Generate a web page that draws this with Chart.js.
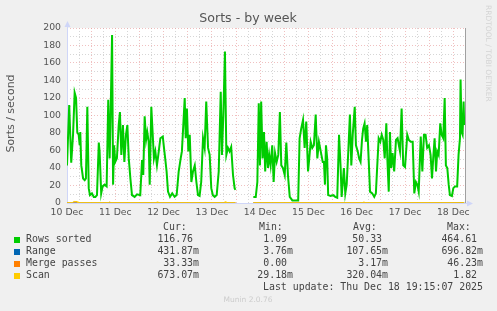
<!DOCTYPE html>
<html>
<head>
<meta charset="utf-8">
<script src="https://cdn.jsdelivr.net/npm/chart.js@4.4.1/dist/chart.umd.min.js"></script>
<style>
html, body { margin: 0; padding: 0; background: #f0f0f0; overflow: hidden; }
</style>
</head>
<body>
<canvas id="chart" width="497" height="311" style="width:497px;height:311px"></canvas>
<script>
// hours since 10 Dec 00:00
const sortHours = [
    0, 1.1, 2.1, 3.0, 3.8, 4.5, 5.1, 5.8, 6.3, 6.6,
    7.1, 8.0, 8.8, 9.4, 10.1, 10.8, 11.4, 12.4, 13.3, 14.1,
    14.9, 15.8, 16.2, 17.0, 17.7, 18.7, 19.7, 20.5, 21.2, 21.7,
    22.4, 22.9, 23.4, 24.0, 24.8, 25.7, 26.3, 27.0, 27.8, 28.5,
    29.3, 30.0, 30.7, 31.5, 32.3, 33.6, 34.8, 36.4, 37.3, 37.9,
    38.6, 39.3, 39.9, 40.6, 41.1, 41.9, 43.2, 43.9, 44.7, 45.6,
    46.4, 47.6, 48.2, 48.8, 49.5, 50.2, 51.2, 52.3, 53.5, 54.5,
    55.5, 56.5, 57.1, 57.8, 58.5, 59.0, 59.6, 60.3, 61.0, 61.8,
    62.6, 63.5, 64.3, 65.1, 65.9, 66.7, 67.6, 68.4, 69.2, 70.1,
    70.9, 71.7, 72.5, 73.4, 74.4, 75.4, 76.4, 77.0, 77.7, 78.5,
    79.2, 80.0, 80.8, 81.6, 82.5, 83.3, 83.7, 88.0, 92.6, 93.8,
    94.6, 95.3, 95.9, 96.5, 97.2, 97.9, 98.5, 99.2, 99.9, 100.5,
    101.2, 102.0, 102.7, 103.4, 104.2, 105.0, 105.8, 106.5, 107.3, 108.2,
    109.0, 109.8, 110.7, 112.0, 113.6, 114.9, 115.6, 116.4, 117.3, 118.1,
    118.9, 119.8, 120.4, 121.1, 121.9, 122.7, 123.6, 124.4, 125.2, 126.1,
    127.1, 127.7, 128.2, 128.7, 129.3, 129.8, 131.0, 132.3, 133.3, 134.3,
    135.2, 136.0, 136.5, 137.6, 138.3, 139.0, 139.8, 140.6, 141.3, 142.0,
    143.0, 143.6, 144.5, 145.2, 145.9, 146.6, 147.2, 147.9, 148.6, 149.2,
    149.9, 150.6, 151.7, 152.7, 153.5, 154.2, 154.9, 155.7, 156.4, 157.2,
    157.9, 158.7, 159.2, 159.9, 160.5, 161.1, 161.8, 162.6, 163.5, 164.3,
    165.5, 166.3, 167.1, 168.0, 169.1, 169.9, 170.8, 171.8, 172.6, 173.4,
    174.1, 174.8, 175.8, 176.6, 177.4, 178.2, 179.0, 179.9, 180.7, 181.4,
    182.0, 182.7, 183.4, 184.0, 184.7, 185.5, 186.2, 187.0, 187.7, 188.3,
    189.0, 189.7, 190.3, 191.3, 192.0, 192.8, 193.9, 194.6, 195.3, 195.6,
    196.1, 196.6, 197.1, 197.4
];
const sortValues = [
    43, 112, 46, 78, 126, 120, 81, 78, 66, 81,
    43, 28, 26, 28, 110, 17, 9, 11, 7, 7,
    9, 69, 59, 11, 19, 21, 19, 118, 51, 104,
    192, 21, 66, 47, 51, 89, 104, 55, 89, 47,
    78, 89, 51, 28, 9, 7, 10, 9, 49, 32,
    99, 72, 81, 70, 21, 110, 51, 59, 43, 59,
    74, 76, 63, 51, 36, 13, 7, 11, 7, 9,
    36, 51, 59, 89, 120, 74, 108, 59, 78, 24,
    36, 43, 24, 9, 8, 24, 74, 63, 116, 63,
    55, 17, 9, 7, 9, 36, 127, 55, 101, 173,
    55, 63, 59, 64, 32, 17, 15, null, 7, 7,
    24, 114, 43, 116, 51, 81, 36, 70, 40, 55,
    43, 66, 24, 57, 47, 55, 104, 43, 40, 32,
    69, 32, 7, 3, 3, 3, 74, 85, 95, 63,
    93, 36, 51, 70, 63, 66, 101, 51, 70, 59,
    47, 47, 21, 66, 51, 9, 8, 9, 7, 6,
    78, 40, 7, 40, 11, 21, 59, 101, 43, 78,
    110, 66, 59, 51, 47, 72, 85, 91, 70, 89,
    51, 13, 11, 7, 11, 43, 74, 70, 78, 72,
    51, 91, 51, 13, 81, 40, 57, 36, 72, 74,
    59, 108, 43, 41, 78, 72, 70, 70, 11, 24,
    21, 13, 76, 36, 78, 78, 63, 66, 55, 28,
    51, 74, 36, 59, 55, 91, 78, 74, 120, 43,
    40, 21, 9, 8, 17, 19, 19, 55, 74, 141,
    81, 78, 116, 89
];

const rangeHours = [0, 24, 48, 72, 83.7, 88, 92.6, 120, 144, 168, 192, 197.4];
const rangeValues = [0.1, 0.12, 0.1, 0.1, 0.1, null, 0.1, 0.1, 0.12, 0.1, 0.1, 0.43];

const mergeHours = [0, 83.7, 88, 92.6, 197.4];
const mergeValues = [0, 0, null, 0, 0.03];

const scanHours = [0, 2.8, 3.2, 5.0, 5.4, 20.8, 21.2, 21.6, 44.4, 44.8, 45.2, 78.2, 78.6, 79.0, 83.7, 88,
    92.6, 147.2, 147.6, 148.0, 196.8, 197.4];
const scanValues = [0.3, 0.3, 1.8, 1.7, 0.3, 0.3, 1.5, 0.3, 0.3, 1.4, 0.3, 0.3, 1.6, 0.3, 0.3, null,
    0.3, 0.3, 1.5, 0.3, 0.3, 0.67];

const legendRows = ['Rows sorted', 'Range', 'Merge passes', 'Scan'];
const legendColors = ['#00cc00', '#0066b3', '#ff8000', '#ffcc00'];
const curValues = ['116.76 ', '431.87m', '33.33m', '673.07m'];
const minValues = ['1.09 ', '3.76m', '0.00 ', '29.18m'];
const avgValues = ['50.33 ', '107.65m', '3.17m', '320.04m'];
const maxValues = ['464.61 ', '696.82m', '46.23m', '1.82 '];

const xMax = 197.8;

function points(hours, values) {
    return hours.map((h, i) => ({ x: h, y: values[i] }));
}

const munin = {
    id: 'munin',
    beforeDraw(chart) {
        const { ctx, chartArea: a } = chart;
        ctx.save();
        ctx.fillStyle = '#f0f0f0';
        ctx.fillRect(0, 0, chart.width, chart.height);
        ctx.fillStyle = '#ffffff';
        ctx.fillRect(a.left, a.top, a.right - a.left, a.bottom - a.top);
        ctx.restore();
    },
    beforeDatasetsDraw(chart) {
        const { ctx, chartArea: a } = chart;
        ctx.save();
        // right frame line
        ctx.strokeStyle = '#a0a0a0';
        ctx.lineWidth = 1;
        ctx.beginPath();
        ctx.moveTo(a.right + 0.5, a.top);
        ctx.lineTo(a.right + 0.5, a.bottom);
        ctx.stroke();
        // axes
        ctx.strokeStyle = '#cfd6f8';
        ctx.beginPath();
        ctx.moveTo(a.left + 0.5, a.bottom + 0.5);
        ctx.lineTo(a.left + 0.5, a.top - 3);
        ctx.moveTo(a.left, a.bottom + 0.5);
        ctx.lineTo(a.right + 4, a.bottom + 0.5);
        ctx.stroke();
        ctx.fillStyle = '#cfd6f8';
        ctx.beginPath();
        ctx.moveTo(a.left + 0.5, a.top - 7);
        ctx.lineTo(a.left - 2.5, a.top - 1);
        ctx.lineTo(a.left + 3.5, a.top - 1);
        ctx.closePath();
        ctx.fill();
        ctx.beginPath();
        ctx.moveTo(a.right + 8, a.bottom + 0.5);
        ctx.lineTo(a.right + 2, a.bottom - 2.5);
        ctx.lineTo(a.right + 2, a.bottom + 3.5);
        ctx.closePath();
        ctx.fill();
        ctx.restore();
    },
    afterDraw(chart) {
        const ctx = chart.ctx;
        ctx.save();
        ctx.fillStyle = '#555555';
        ctx.font = '12.6px "DejaVu Sans"';
        ctx.textAlign = 'center';
        ctx.textBaseline = 'middle';
        ctx.fillText('Sorts - by week', 248, 19);

        ctx.save();
        ctx.translate(11, 113.5);
        ctx.rotate(-Math.PI / 2);
        ctx.font = '11px "DejaVu Sans"';
        ctx.fillText('Sorts / second', 0, 0);
        ctx.restore();

        ctx.save();
        ctx.translate(487.5, 5);
        ctx.rotate(Math.PI / 2);
        ctx.textAlign = 'left';
        ctx.fillStyle = '#d4d4d4';
        ctx.font = '7.5px "DejaVu Sans"';
        ctx.fillText('RRDTOOL / TOBI OETIKER', 0, 0);
        ctx.restore();

        // legend table
        ctx.font = '9.9px "DejaVu Sans Mono"';
        ctx.fillStyle = '#444444';
        ctx.textAlign = 'left';
        const rowY = i => 227.5 + 12 * i;
        ctx.fillText('Cur:', 163, rowY(0));
        ctx.fillText('Min:', 259, rowY(0));
        ctx.fillText('Avg:', 353, rowY(0));
        ctx.fillText('Max:', 447, rowY(0));
        legendRows.forEach((name, i) => {
            const y = rowY(i + 1);
            ctx.fillStyle = legendColors[i];
            ctx.fillRect(14, Math.round(y) - 3, 6, 6);
            ctx.fillStyle = '#444444';
            ctx.textAlign = 'left';
            ctx.fillText(name, 26, y);
            ctx.textAlign = 'right';
            ctx.fillText(curValues[i], 199, y);
            ctx.fillText(minValues[i], 293, y);
            ctx.fillText(avgValues[i], 388, y);
            ctx.fillText(maxValues[i], 483, y);
        });
        ctx.textAlign = 'right';
        ctx.fillText('Last update: Thu Dec 18 19:15:07 2025', 483, rowY(5));

        ctx.textAlign = 'center';
        ctx.fillStyle = '#cccccc';
        ctx.font = '7.5px "DejaVu Sans"';
        ctx.fillText('Munin 2.0.76', 248, 300.5);
        ctx.restore();
    }
};

const majorGrid = 'rgba(230, 150, 150, 0.6)';
const minorGrid = 'rgba(200, 200, 200, 0.75)';

new Chart(document.getElementById('chart'), {
    type: 'line',
    data: {
        datasets: [
            { label: 'Scan', data: points(scanHours, scanValues), borderColor: '#ffcc00', borderWidth: 1, order: 0 },
            { label: 'Merge passes', data: points(mergeHours, mergeValues), borderColor: '#ff8000', borderWidth: 1, order: 1 },
            { label: 'Range', data: points(rangeHours, rangeValues), borderColor: '#0066b3', borderWidth: 1, order: 2 },
            { label: 'Rows sorted', data: points(sortHours, sortValues), borderColor: '#00cc00', borderWidth: 2, order: 3 }
        ]
    },
    options: {
        responsive: false,
        animation: false,
        devicePixelRatio: 1,
        spanGaps: false,
        elements: {
            point: { radius: 0 },
            line: { tension: 0, fill: false, borderJoinStyle: 'miter' }
        },
        layout: { padding: { left: 0, top: 28, right: 32, bottom: 88 } },
        plugins: {
            legend: { display: false },
            title: { display: false },
            tooltip: { enabled: false }
        },
        scales: {
            x: {
                type: 'linear',
                min: 0,
                max: xMax,
                afterBuildTicks: scale => {
                    const ticks = [];
                    for (let h = 0; h <= xMax; h += 6) ticks.push({ value: h });
                    scale.ticks = ticks;
                },
                afterFit: scale => { scale.height = 20; },
                ticks: {
                    autoSkip: false,
                    maxRotation: 0,
                    padding: 4,
                    color: '#555555',
                    font: { family: 'DejaVu Sans', size: 9.3 },
                    callback: v => v % 24 === 0 ? (10 + v / 24) + ' Dec' : ''
                },
                grid: {
                    drawTicks: false,
                    color: c => c.tick && c.tick.value % 12 === 0 ? majorGrid : minorGrid
                },
                border: { display: false, dash: [1, 2] }
            },
            y: {
                min: 0,
                max: 200,
                afterBuildTicks: scale => {
                    const ticks = [];
                    for (let v = 0; v <= 200; v += 10) ticks.push({ value: v });
                    scale.ticks = ticks;
                },
                afterFit: scale => { scale.width = 67; },
                ticks: {
                    autoSkip: false,
                    padding: 6,
                    color: '#555555',
                    font: { family: 'DejaVu Sans', size: 9.3 },
                    callback: v => v % 20 === 0 ? String(v) : ''
                },
                grid: {
                    drawTicks: false,
                    color: c => c.tick && c.tick.value % 20 === 0 ? majorGrid : minorGrid
                },
                border: { display: false, dash: [1, 2] }
            }
        }
    },
    plugins: [munin]
});
</script>
</body>
</html>
